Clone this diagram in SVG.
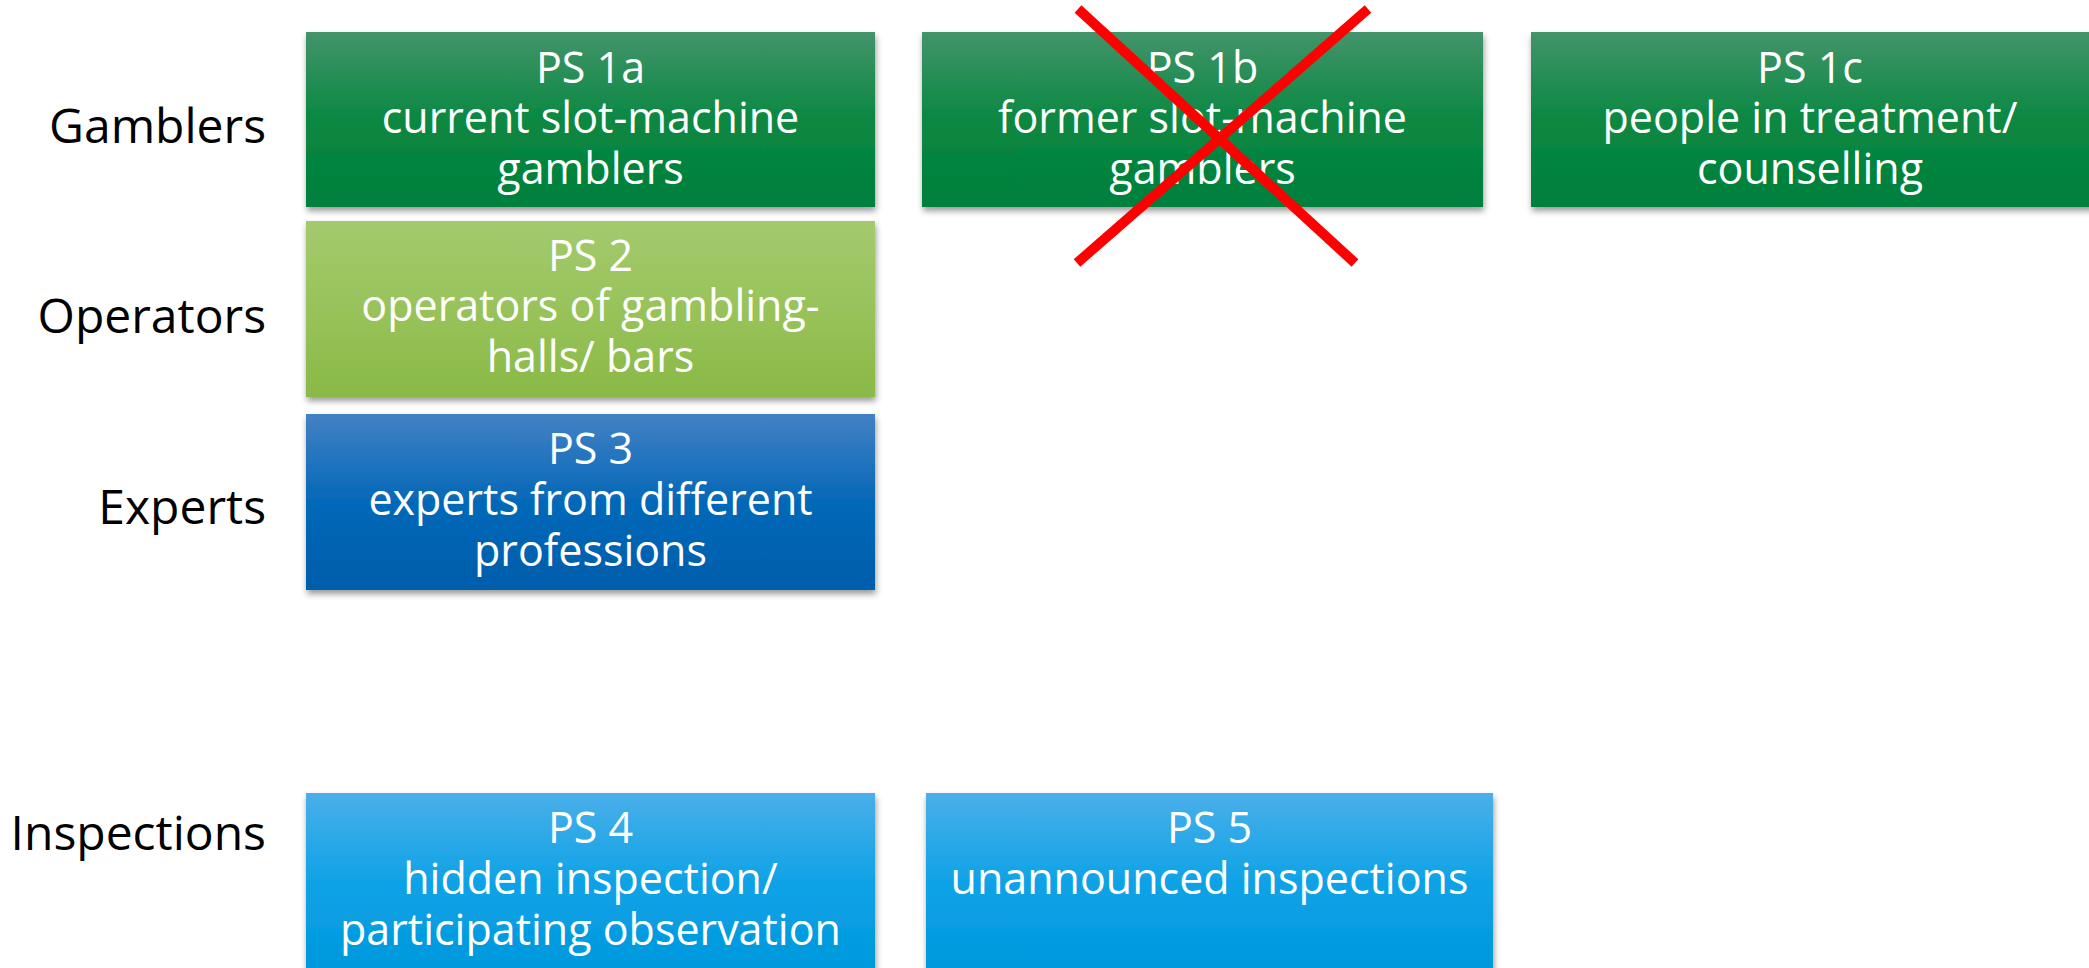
<svg xmlns="http://www.w3.org/2000/svg" width="2089" height="968" viewBox="0 0 2089 968">
  <defs>
    <linearGradient id="gDark" x1="0" y1="0" x2="0" y2="1">
      <stop offset="0" stop-color="#43946a"/>
      <stop offset="0.5" stop-color="#0a8842"/>
      <stop offset="1" stop-color="#00803c"/>
    </linearGradient>
    <linearGradient id="gLight" x1="0" y1="0" x2="0" y2="1">
      <stop offset="0" stop-color="#a3ca6e"/>
      <stop offset="0.5" stop-color="#98c35a"/>
      <stop offset="1" stop-color="#89b946"/>
    </linearGradient>
    <linearGradient id="gBlue" x1="0" y1="0" x2="0" y2="1">
      <stop offset="0" stop-color="#4381c4"/>
      <stop offset="0.5" stop-color="#0468b8"/>
      <stop offset="1" stop-color="#005eab"/>
    </linearGradient>
    <linearGradient id="gSky" x1="0" y1="0" x2="0" y2="1">
      <stop offset="0" stop-color="#4aafea"/>
      <stop offset="0.5" stop-color="#0ca2e6"/>
      <stop offset="1" stop-color="#0097dc"/>
    </linearGradient>
    <filter id="shadow" x="-5%" y="-10%" width="110%" height="125%">
      <feDropShadow dx="1" dy="4" stdDeviation="3" flood-color="#000" flood-opacity="0.4"/>
    </filter>
  </defs>
  <style>
    .lbl { font-family: "Open Sans", "Noto Sans", "Liberation Sans", sans-serif; font-size: 48px; fill: #000; text-anchor: end; }
    .bt { font-family: "Open Sans", "Noto Sans", "Liberation Sans", sans-serif; font-size: 43px; fill: #fff; text-anchor: middle; }
    .box { filter: url(#shadow); }
  </style>
  <rect width="2089" height="968" fill="#ffffff"/>

  <g id="labels">
    <text class="lbl" x="266" y="143">Gamblers</text>
    <text class="lbl" x="266" y="333">Operators</text>
    <text class="lbl" x="266" y="524">Experts</text>
    <text class="lbl" x="266" y="850">Inspections</text>
  </g>

  <g id="ps1a">
    <rect class="box" x="306" y="32" width="569" height="175" fill="url(#gDark)"/>
    <text class="bt" x="590.5" y="83">PS 1a</text>
    <text class="bt" x="590.5" y="133">current slot-machine</text>
    <text class="bt" x="590.5" y="184">gamblers</text>
  </g>

  <g id="ps1b">
    <rect class="box" x="922" y="32" width="561" height="175" fill="url(#gDark)"/>
    <text class="bt" x="1202.5" y="83">PS 1b</text>
    <text class="bt" x="1202.5" y="133">former slot-machine</text>
    <text class="bt" x="1202.5" y="184">gamblers</text>
  </g>

  <g id="ps1c">
    <rect class="box" x="1531" y="32" width="570" height="175" fill="url(#gDark)"/>
    <text class="bt" x="1810" y="83">PS 1c</text>
    <text class="bt" x="1810" y="133">people in treatment/</text>
    <text class="bt" x="1810" y="184">counselling</text>
  </g>

  <g id="ps2">
    <rect class="box" x="306" y="221" width="569" height="176" fill="url(#gLight)"/>
    <text class="bt" x="590.5" y="271">PS 2</text>
    <text class="bt" x="590.5" y="321">operators of gambling-</text>
    <text class="bt" x="590.5" y="372">halls/ bars</text>
  </g>

  <g id="ps3">
    <rect class="box" x="306" y="414" width="569" height="176" fill="url(#gBlue)"/>
    <text class="bt" x="590.5" y="464">PS 3</text>
    <text class="bt" x="590.5" y="515">experts from different</text>
    <text class="bt" x="590.5" y="566">professions</text>
  </g>

  <g id="ps4">
    <rect class="box" x="306" y="793" width="569" height="185" fill="url(#gSky)"/>
    <text class="bt" x="590.5" y="843">PS 4</text>
    <text class="bt" x="590.5" y="894">hidden inspection/</text>
    <text class="bt" x="590.5" y="945">participating observation</text>
  </g>

  <g id="ps5">
    <rect class="box" x="926" y="793" width="567" height="185" fill="url(#gSky)"/>
    <text class="bt" x="1209.5" y="843">PS 5</text>
    <text class="bt" x="1209.5" y="894">unannounced inspections</text>
  </g>

  <g id="connectors">
    <line x1="1078" y1="9" x2="1355" y2="263" stroke="#ff0000" stroke-width="10"/>
    <line x1="1368" y1="9" x2="1077" y2="263" stroke="#ff0000" stroke-width="10"/>
  </g>
</svg>
